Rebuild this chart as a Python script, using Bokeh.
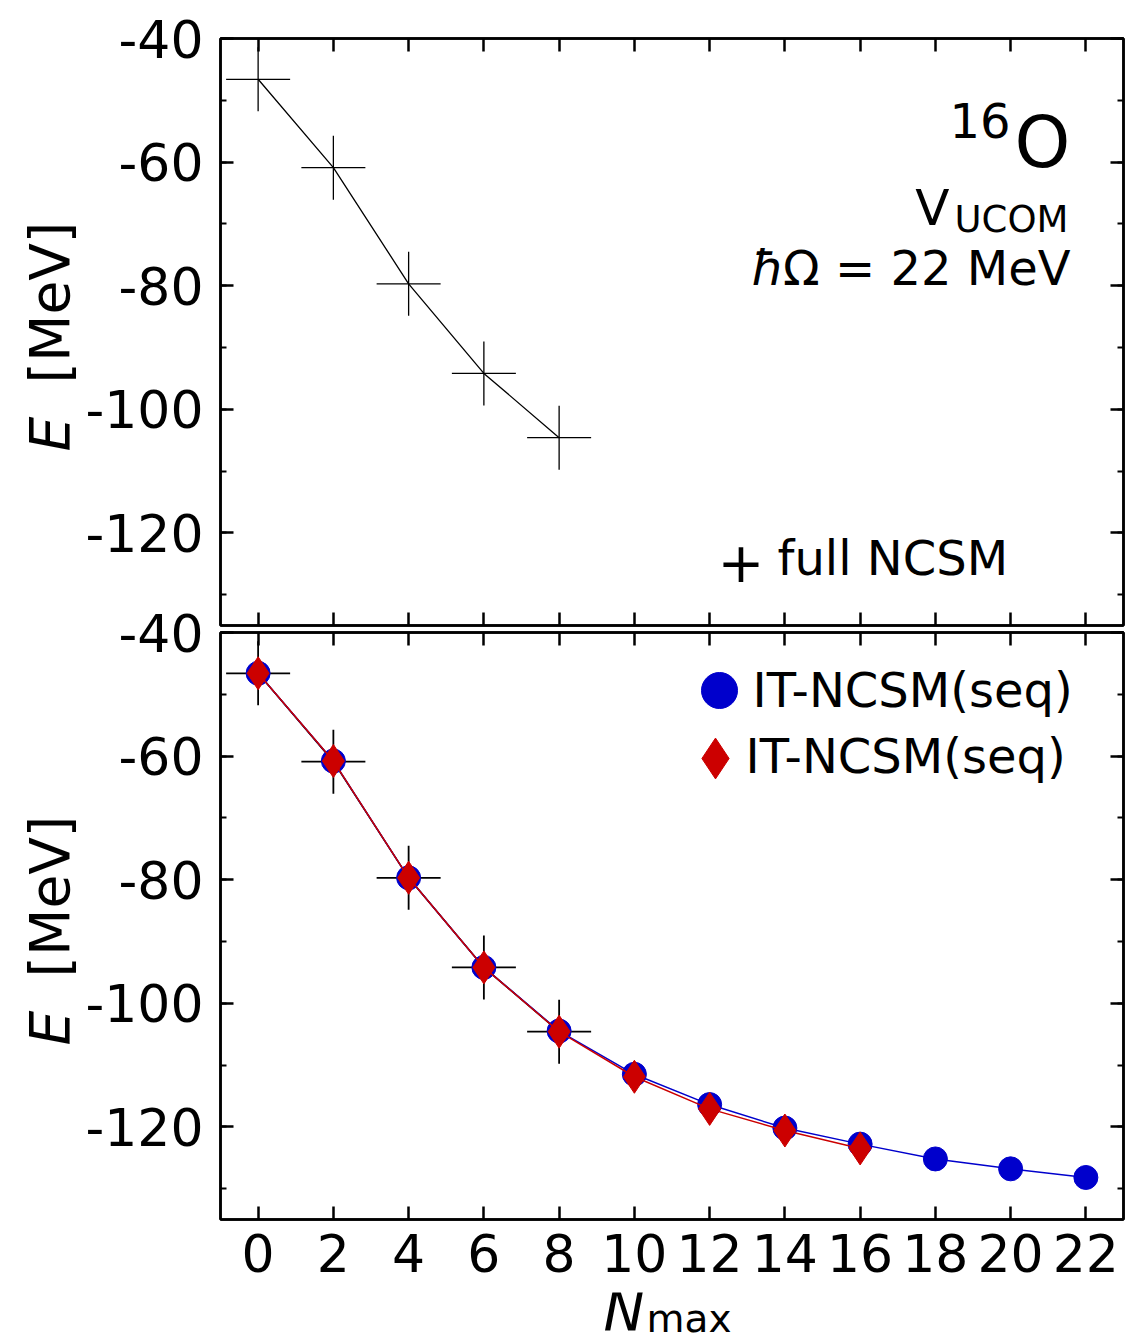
import math
from bokeh.plotting import figure
from bokeh.layouts import column, row
from bokeh.models import (Range1d, SingleIntervalTicker, LinearAxis, Label,
                          Legend, LegendItem, CustomJSTickFormatter)
from bokeh.embed import file_html
from bokeh.resources import INLINE

# ---------------- data ----------------
nmax_full = [0, 2, 4, 6, 8]
e_full = [-46.6, -60.9, -79.7, -94.2, -104.6]

nmax_seq = [0, 2, 4, 6, 8, 10, 12, 14, 16, 18, 20, 22]
e_seq = [-46.6, -60.8, -79.7, -94.2, -104.5, -111.5, -116.4, -120.2,
         -122.8, -125.2, -126.8, -128.2]

nmax_sim = [0, 2, 4, 6, 8, 10, 12, 14, 16]
e_sim = [-46.6, -60.8, -79.7, -94.2, -104.6, -111.9, -117.1, -120.6, -123.5]

label_full = "full NCSM"
label_seq = "IT-NCSM(seq)"
label_sim = "IT-NCSM(seq)"

x_limits = (-1, 23)
y_limits = (-135, -40)
x_tick_step = 2
y_tick_step = 20

FONT = "DejaVu Sans"
BLUE = "#0000cc"
RED = "#cc0000"

int_fmt = CustomJSTickFormatter(code="return tick.toFixed(0);")
blank_fmt = CustomJSTickFormatter(code="return '';")


def style_axis(ax, show_labels):
    ax.axis_line_width = 2.5
    ax.axis_line_color = "black"
    ax.major_tick_in = 13
    ax.major_tick_out = 0
    ax.minor_tick_in = 6
    ax.minor_tick_out = 0
    ax.major_tick_line_width = 2.5
    ax.minor_tick_line_width = 2
    ax.major_tick_line_color = "black"
    ax.minor_tick_line_color = "black"
    if show_labels:
        ax.major_label_text_font = FONT
        ax.major_label_text_font_size = "52px"
        ax.major_label_text_color = "black"
        ax.formatter = int_fmt
    else:
        ax.formatter = blank_fmt
        ax.major_label_text_font_size = "1px"
        ax.major_label_standoff = 0


def make_panel(height, top, bottom, show_x_labels):
    p = figure(width=1055, height=height, output_backend="svg",
               toolbar_location=None,
               x_range=Range1d(*x_limits), y_range=Range1d(*y_limits),
               min_border_left=140, min_border_right=12,
               min_border_top=top, min_border_bottom=bottom)
    p.grid.visible = False
    p.outline_line_color = "black"
    p.outline_line_width = 2.5
    p.background_fill_color = "white"

    p.xaxis.ticker = SingleIntervalTicker(interval=x_tick_step, num_minor_ticks=0)
    p.yaxis.ticker = SingleIntervalTicker(interval=y_tick_step, num_minor_ticks=2)
    for ax in p.xaxis:
        style_axis(ax, show_x_labels)
        if show_x_labels:
            ax.major_label_standoff = 14
    for ax in p.yaxis:
        style_axis(ax, True)
        ax.major_label_standoff = 17

    top_ax = LinearAxis(ticker=SingleIntervalTicker(interval=x_tick_step, num_minor_ticks=0))
    style_axis(top_ax, False)
    p.add_layout(top_ax, "above")
    right_ax = LinearAxis(ticker=SingleIntervalTicker(interval=y_tick_step, num_minor_ticks=2))
    style_axis(right_ax, False)
    p.add_layout(right_ax, "right")
    return p


def lab(p, x, y, text, size, align="left", style="normal", angle=0.0):
    p.add_layout(Label(x=x, y=y, x_units="screen", y_units="screen", text=text,
                       text_font=FONT, text_font_size=size, text_align=align,
                       text_baseline="alphabetic", text_font_style=style,
                       text_color="black", angle=angle))


# ---------------- top panel ----------------
p1 = make_panel(629, 38, 4, False)
p1.line(nmax_full, e_full, line_color="black", line_width=1.3)
p1.scatter(nmax_full, e_full, marker="cross", size=64, line_color="black",
           line_width=1.3)

lab(p1, 850, 483, "O", "71px", align="right")
lab(p1, 790, 505, "16", "48px", align="right")
lab(p1, 848, 406, "UCOM", "37px", align="right")
lab(p1, 729, 418, "V", "50px", align="right")
lab(p1, 850, 358, "Ω = 22 MeV", "48px", align="right")
lab(p1, 564, 358, "ħ", "48px", align="right", style="italic")
lab(p1, 497, 64, "+", "56px")
lab(p1, 557, 68, label_full, "48px")

# ---------------- bottom panel ----------------
p2 = make_panel(693, 33, 73, True)
p2.border_fill_alpha = 0
p2.styles = {"margin-top": "-30px"}
p2.line(nmax_full, e_full, line_color="black", line_width=1.5)
p2.scatter(nmax_full, e_full, marker="cross", size=64, line_color="black",
           line_width=1.8)
p2.line(nmax_seq, e_seq, line_color=BLUE, line_width=1.5)
r_seq = p2.scatter(nmax_seq, e_seq, marker="circle", size=24,
                   fill_color=BLUE, line_color=BLUE)
p2.line(nmax_sim, e_sim, line_color=RED, line_width=1.5)
r_sim = p2.scatter(nmax_sim, e_sim, marker="diamond", size=33,
                   fill_color=RED, line_color=RED)

leg2 = Legend(items=[LegendItem(label=" ", renderers=[r_seq])],
              location=(454, 484), glyph_width=90, glyph_height=90,
              label_standoff=0, padding=0, margin=0, spacing=0,
              label_text_font=FONT, label_text_font_size="10px",
              background_fill_alpha=0, border_line_alpha=0)
leg3 = Legend(items=[LegendItem(label=" ", renderers=[r_sim])],
              location=(444, 410), glyph_width=102, glyph_height=102,
              label_standoff=0, padding=0, margin=0, spacing=0,
              label_text_font=FONT, label_text_font_size="10px",
              background_fill_alpha=0, border_line_alpha=0)
p2.add_layout(leg2)
p2.add_layout(leg3)
lab(p2, 532, 530, label_seq, "48px")
lab(p2, 525, 464, label_sim, "48px")

# ---------------- strips holding the axis titles ----------------
def strip(w, h):
    s = figure(width=w, height=h, output_backend="svg", toolbar_location=None,
               x_axis_type=None, y_axis_type=None,
               x_range=Range1d(0, 1), y_range=Range1d(0, 1),
               min_border=0, min_border_left=0, min_border_right=0,
               min_border_top=0, min_border_bottom=0)
    s.grid.visible = False
    s.outline_line_color = None
    return s

left = strip(80, 1342)
for y_e, y_m in [(891, 959), (297, 365)]:
    lab(left, 49, y_e, "E", "55px", style="italic", angle=math.pi / 2)
    lab(left, 49, y_m, "[MeV]", "55px", angle=math.pi / 2)

bottom = strip(1055, 50)
lab(bottom, 383, 32, "N", "55px", style="italic")
lab(bottom, 426, 24, "max", "39px")

layout = row(left, column(p1, p2, bottom, spacing=0), spacing=0)
open("out.html", "w").write(file_html(layout, INLINE))
